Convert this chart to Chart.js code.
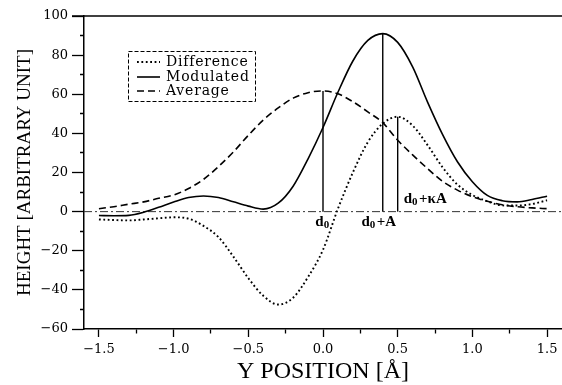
<!DOCTYPE html>
<html><head><meta charset="utf-8">
<script src="https://cdn.jsdelivr.net/npm/chart.js@4.4.1/dist/chart.umd.min.js"></script>
<style>html,body{margin:0;padding:0;background:#fff;}canvas{display:block;}</style>
</head><body>
<canvas id="c" width="562" height="385"></canvas>
<script>
// ---- data ----
const positions = [-1.5,-1.4,-1.3,-1.2,-1.1,-1.0,-0.9,-0.8,-0.7,-0.6,-0.5,-0.4,-0.3,-0.2,-0.1,0.0,0.1,0.2,0.3,0.4,0.5,0.6,0.7,0.8,0.9,1.0,1.1,1.2,1.3,1.4,1.5];
const difference = [-4,-4.3,-4.5,-4,-3.4,-2.9,-3.6,-7.3,-13,-23,-34,-43,-47.5,-44,-33.4,-19.5,1.5,20,35.5,45,48.5,44,34,22.7,13.8,8.5,5.3,3.2,3.1,3.9,5.8];
const modulated = [-2,-2.1,-1.9,-0.3,2.2,4.9,7.2,8,7.2,5,2.8,1.3,4.3,13,27,43,61,77,87.5,91,86.5,74,56,39.5,25.5,15.3,8.3,5.6,5,6.2,7.9];
const average = [1.5,2.5,3.8,5,6.8,8.5,11.8,16.5,23,30.5,39,46.8,53,58,60.8,61.7,60.2,56.2,51,45.5,36.5,29,22,15.5,11,7.6,5.3,3.5,2.5,1.9,1.5];
const seriesLabels = ['Difference','Modulated','Average'];
const markerX = [0, 0.4, 0.5];
const markerTop = [61.7, 91, 48.5];
const markerLabels = [['d','0',''],['d','0','+A'],['d','0','+\u03BAA']];
const xRange = [-1.6, 1.6];
const yRange = [-60, 100];
const xTickValues = [-1.5,-1.0,-0.5,0.0,0.5,1.0,1.5];
const xTickLabels = ['\u22121.5','\u22121.0','\u22120.5','0.0','0.5','1.0','1.5'];
const yTickValues = [-60,-40,-20,0,20,40,60,80,100];
const yTickLabels = ['\u221260','\u221240','\u221220','0','20','40','60','80','100'];
const xTitle = 'Y POSITION [\u00C5]';
const yTitle = 'HEIGHT [ARBITRARY UNIT]';

// ---- build ----
const pts = arr => positions.map((x,i)=>({x, y: arr[i]}));
const styles = [
  {borderWidth:1.9, borderDash:[1.8,2.6]},
  {borderWidth:1.6, borderDash:[]},
  {borderWidth:1.6, borderDash:[7,4]}
];
const seriesData = [difference, modulated, average];
const datasets = seriesData.map((arr,i)=>({
  label: seriesLabels[i], data: pts(arr), borderColor:'#000',
  borderWidth: styles[i].borderWidth, borderDash: styles[i].borderDash,
  pointRadius:0, cubicInterpolationMode:'monotone', fill:false
}));
markerX.forEach((mx,i)=>{
  datasets.push({label:'m'+i, data:[{x:mx,y:0},{x:mx,y:markerTop[i]}], borderColor:'#000', borderWidth:1.4, pointRadius:0});
});
datasets.push({label:'zero', data:[{x:xRange[0],y:0},{x:xRange[1],y:0}], borderColor:'#333', borderWidth:1, borderDash:[8,3,2,3], pointRadius:0});

const near = (a,b)=>Math.abs(a-b)<1e-6;
const labelFor = (vals, labs, v) => { const k = vals.findIndex(t=>near(t,v)); return k>=0 ? labs[k] : ''; };

const overlay = {
  id:'overlay',
  afterDatasetsDraw(chart){
    const ctx = chart.ctx, ca = chart.chartArea, xs = chart.scales.x, ys = chart.scales.y;
    ctx.save();
    // top frame line
    ctx.strokeStyle='#000'; ctx.lineWidth=1.5; ctx.setLineDash([]);
    ctx.beginPath(); ctx.moveTo(ca.left-12, ca.top); ctx.lineTo(ca.right, ca.top); ctx.stroke();
    // legend
    const bx=128, by=51, bw=127, bh=50;
    ctx.lineWidth=1; ctx.setLineDash([4,2]);
    ctx.strokeRect(bx+0.5, by+0.5, bw, bh);
    const rows=[62,77,91];
    ctx.font='14px "DejaVu Serif"'; ctx.fillStyle='#000'; ctx.textBaseline='middle'; ctx.textAlign='left';
    try{ ctx.letterSpacing='0.8px'; }catch(e){}
    seriesLabels.forEach((lab,i)=>{
      ctx.lineWidth=styles[i].borderWidth; ctx.setLineDash(styles[i].borderDash);
      ctx.beginPath(); ctx.moveTo(137, rows[i]); ctx.lineTo(160, rows[i]); ctx.stroke();
      ctx.fillText(lab, 166, rows[i]);
    });
    try{ ctx.letterSpacing='0px'; }catch(e){}
    // marker labels
    const big='bold 15px "Liberation Serif"', small='bold 11px "Liberation Serif"';
    const draw=(parts, x, y, align)=>{
      ctx.font=big; const w1=ctx.measureText(parts[0]).width, w3=ctx.measureText(parts[2]).width;
      ctx.font=small; const w2=ctx.measureText(parts[1]).width+1.5;
      let sx = align==='center' ? x-(w1+w2+w3)/2 : x;
      ctx.textAlign='left'; ctx.textBaseline='middle';
      ctx.font=big; ctx.fillText(parts[0], sx, y);
      ctx.font=small; ctx.fillText(parts[1], sx+w1, y+4);
      ctx.font=big; ctx.fillText(parts[2], sx+w1+w2, y);
    };
    const y0 = ys.getPixelForValue(0);
    draw(markerLabels[0], xs.getPixelForValue(markerX[0]), y0+10, 'center');
    draw(markerLabels[1], xs.getPixelForValue(markerX[1])-4, y0+10, 'center');
    draw(markerLabels[2], xs.getPixelForValue(markerX[2])+6, y0-13, 'left');
    ctx.restore();
  }
};

new Chart(document.getElementById('c'), {
  type:'line',
  data:{datasets},
  options:{
    responsive:false, animation:false, devicePixelRatio:1,
    layout:{padding:{top:16,right:0,left:0,bottom:0}},
    plugins:{legend:{display:false}, tooltip:{enabled:false}},
    scales:{
      x:{
        type:'linear', min:xRange[0], max:xRange[1],
        afterFit(s){ s.height=56; s.paddingLeft=0; s.paddingRight=0; },
        ticks:{stepSize:0.25, includeBounds:false, autoSkip:false, maxRotation:0, padding:5, color:'#000',
          font:{family:'DejaVu Serif', size:13},
          callback:(v)=>labelFor(xTickValues, xTickLabels, v)},
        grid:{drawOnChartArea:false, drawTicks:true, tickLength:8, tickColor:'#000', tickWidth:1.3,
          tickBorderDash:(c)=> (c.tick && xTickValues.some(t=>near(t,c.tick.value))) ? [] : [4,100]},
        border:{display:true, color:'#000', width:1.5},
        title:{display:true, text:xTitle, color:'#000', font:{family:'Liberation Serif', size:24, lineHeight:1}, padding:{top:0,bottom:1}}
      },
      y:{
        type:'linear', min:yRange[0], max:yRange[1],
        afterFit(s){ s.width=84; },
        ticks:{stepSize:10, autoSkip:false, padding:4, color:'#000',
          font:{family:'DejaVu Serif', size:13},
          callback:(v)=>labelFor(yTickValues, yTickLabels, v)},
        grid:{drawOnChartArea:false, drawTicks:true, tickLength:12, tickColor:'#000', tickWidth:1.3,
          tickBorderDash:(c)=> (c.tick && yTickValues.some(t=>near(t,c.tick.value))) ? [] : [0,8,4,100]},
        border:{display:true, color:'#000', width:1.5},
        title:{display:true, text:yTitle, color:'#000', font:{family:'Liberation Serif', size:19, lineHeight:1}, padding:{top:15.5,bottom:0}}
      }
    }
  },
  plugins:[overlay]
});
</script>
</body></html>
